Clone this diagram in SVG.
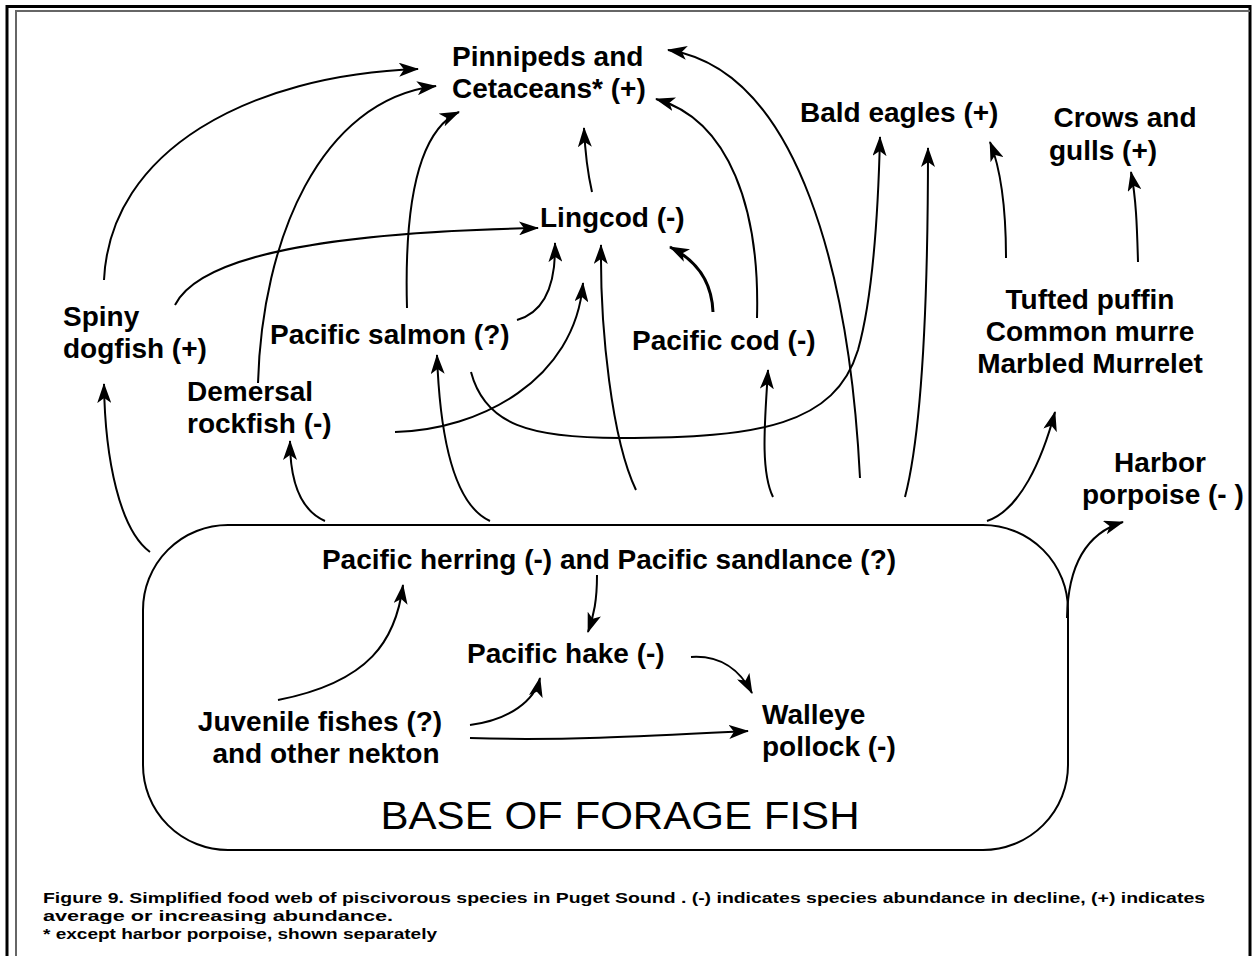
<svg xmlns="http://www.w3.org/2000/svg" width="1254" height="956" viewBox="0 0 1254 956">
<style>
.lbl{font-family:"Liberation Sans",Arial,sans-serif;font-weight:bold;font-size:28px;fill:#000}
.base{font-family:"Liberation Sans",Arial,sans-serif;font-size:38px;fill:#000}
.cap{font-family:"Liberation Sans",Arial,sans-serif;font-weight:bold;font-size:15px;fill:#000}
.c{fill:none;stroke:#000;stroke-width:2;marker-end:url(#ah)}
.ct{fill:none;stroke:#000;stroke-width:3;marker-end:url(#ah)}
</style>
<defs>
<marker id="ah" markerUnits="userSpaceOnUse" markerWidth="20" markerHeight="14" refX="19" refY="7" orient="auto">
<path d="M0,0 L20,7 L0,14 L5,7 z" fill="#000"/>
</marker>
</defs>
<rect width="1254" height="956" fill="#fff"/>
<g id="frame">
<rect x="7" y="6.5" width="1243" height="960" fill="none" stroke="#000" stroke-width="3"/>
<path d="M16,960 L16,11 L1250,11" fill="none" stroke="#666" stroke-width="2"/>
</g>
<g id="base-box">
<rect x="143" y="525" width="925" height="325" rx="85" ry="85" fill="none" stroke="#000" stroke-width="2"/>
<text class="base" x="620" y="829" text-anchor="middle" textLength="479" lengthAdjust="spacingAndGlyphs">BASE OF FORAGE FISH</text>
</g>
<g id="connectors">
<path class="c" d="M104,280 C110,150 250,75 418,69"/>
<path class="c" d="M175,305 C200,255 330,232 538,228"/>
<path class="c" d="M258,383 C262,240 320,100 436,86"/>
<path class="c" d="M407,308 C404,200 420,130 459,112"/>
<path class="c" d="M592,192 C587,170 585,150 584,128"/>
<path class="c" d="M757,318 C760,210 730,120 656,99"/>
<path class="c" d="M860,478 C850,280 800,70 668,50"/>
<path class="c" d="M471,372 C485,425 530,438 620,438 C760,438 835,425 858,350 C872,300 878,220 880,137"/>
<path class="c" d="M395,432 C480,430 575,380 583,283"/>
<path class="c" d="M517,320 C545,312 556,285 555,243"/>
<path class="c" d="M636,490 C612,440 600,330 601,245"/>
<path class="ct" d="M713,312 C712,285 700,262 670,247"/>
<path class="c" d="M773,497 C760,470 765,420 768,370"/>
<path class="c" d="M905,497 C925,420 928,250 928,148"/>
<path class="c" d="M1006,258 C1006,210 1002,172 990,142"/>
<path class="c" d="M1138,262 C1137,225 1136,198 1131,172"/>
<path class="c" d="M987,521 C1020,510 1042,460 1055,412"/>
<path class="c" d="M1067,618 C1068,560 1090,532 1123,522"/>
<path class="c" d="M150,552 C120,530 105,460 104,384"/>
<path class="c" d="M325,521 C300,510 290,480 290,441"/>
<path class="c" d="M490,521 C455,505 440,440 437,355"/>
<path class="c" d="M278,700 C370,682 396,640 403,585"/>
<path class="c" d="M597,575 C597,600 594,615 588,632"/>
<path class="c" d="M470,725 C510,720 535,700 540,678"/>
<path class="c" d="M691,657 C720,655 740,670 752,693"/>
<path class="c" d="M470,738 C560,741 650,736 748,731"/>
</g>
<g id="pinnipeds"><text class="lbl" x="452" y="66">Pinnipeds and</text><text class="lbl" x="452" y="98">Cetaceans* (+)</text></g>
<g id="bald-eagles"><text class="lbl" x="800" y="122">Bald eagles (+)</text></g>
<g id="crows"><text class="lbl" x="1125" y="127" text-anchor="middle">Crows and</text><text class="lbl" x="1103" y="160" text-anchor="middle">gulls (+)</text></g>
<g id="lingcod"><text class="lbl" x="540" y="227">Lingcod (-)</text></g>
<g id="spiny-dogfish"><text class="lbl" x="63" y="326">Spiny</text><text class="lbl" x="63" y="358">dogfish (+)</text></g>
<g id="pacific-salmon"><text class="lbl" x="270" y="344">Pacific salmon (?)</text></g>
<g id="pacific-cod"><text class="lbl" x="632" y="350">Pacific cod (-)</text></g>
<g id="demersal-rockfish"><text class="lbl" x="187" y="401">Demersal</text><text class="lbl" x="187" y="433">rockfish (-)</text></g>
<g id="seabirds"><text class="lbl" x="1090" y="309" text-anchor="middle">Tufted puffin</text><text class="lbl" x="1090" y="341" text-anchor="middle">Common murre</text><text class="lbl" x="1090" y="373" text-anchor="middle">Marbled Murrelet</text></g>
<g id="harbor-porpoise"><text class="lbl" x="1160" y="472" text-anchor="middle">Harbor</text><text class="lbl" x="1082" y="504">porpoise (- )</text></g>
<g id="herring-sandlance"><text class="lbl" x="609" y="569" text-anchor="middle">Pacific herring (-) and Pacific sandlance (?)</text></g>
<g id="pacific-hake"><text class="lbl" x="467" y="663">Pacific hake (-)</text></g>
<g id="walleye-pollock"><text class="lbl" x="762" y="724">Walleye</text><text class="lbl" x="762" y="756">pollock (-)</text></g>
<g id="juvenile-fishes"><text class="lbl" x="320" y="731" text-anchor="middle">Juvenile fishes (?)</text><text class="lbl" x="326" y="763" text-anchor="middle">and other nekton</text></g>
<g id="caption">
<text class="cap" x="43" y="903" textLength="1162" lengthAdjust="spacingAndGlyphs">Figure 9.  Simplified food web of piscivorous species in Puget Sound .  (-) indicates species abundance in decline, (+) indicates</text>
<text class="cap" x="43" y="921" textLength="350" lengthAdjust="spacingAndGlyphs">average or increasing abundance.</text>
<text class="cap" x="43" y="939" textLength="394" lengthAdjust="spacingAndGlyphs">* except harbor porpoise, shown separately</text>
</g>
</svg>
